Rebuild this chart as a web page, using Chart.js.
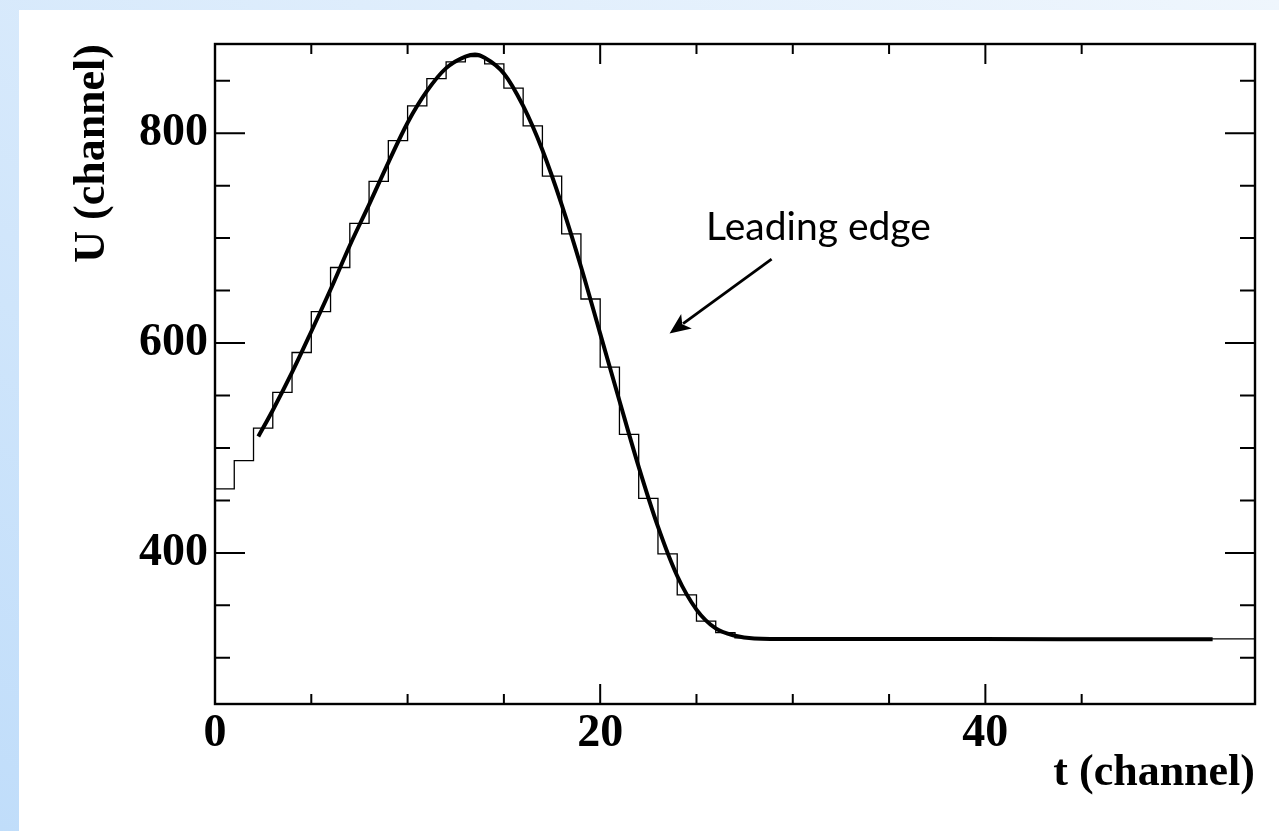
<!DOCTYPE html>
<html>
<head>
<meta charset="utf-8">
<script src="https://cdn.jsdelivr.net/npm/chart.js@4.4.0/dist/chart.umd.min.js"></script>
<style>
html, body { margin: 0; padding: 0; }
body { width: 1279px; height: 831px; overflow: hidden; position: relative;
       background: linear-gradient(to top right, #c0ddfa, #eff6fd); }
#panel { position: absolute; left: 19px; top: 10px; right: 0; bottom: 0; background: #fff; }
#wrap { position: absolute; left: 0; top: 0; width: 1279px; height: 831px; }
</style>
</head>
<body>
<div id="panel"></div>
<div id="wrap"><canvas id="pulse"></canvas></div>
<script>
// sampled amplitude per time channel (bin i spans [i, i+1])
const histCounts = [461, 488, 519, 553, 591, 630, 672, 714, 754, 793,
                    826, 852, 868, 873, 866, 843, 807, 759, 704, 642,
                    577, 513, 452, 399, 360, 335, 324, 319, 318, 318,
                    318, 318, 318, 318, 318, 318, 318, 318, 318, 318,
                    318, 318, 318, 318, 318, 318, 318, 318, 318, 318,
                    318, 318, 318, 318];
// fitted pulse shape
const fitT = [2.25, 3, 4, 5, 6, 7, 8, 9, 10, 11, 12, 13, 13.5, 14, 15, 16, 17, 18, 19, 20,
              21, 22, 23, 24, 25, 26, 27, 28, 30, 36, 44, 51.8];
const fitU = [511, 536, 572, 611, 651, 693, 732, 772, 810, 840, 862, 873, 875, 872, 857, 826, 784, 732, 673, 609,
              545, 482, 425, 378, 346, 328, 321, 318.5, 318, 318, 317.8, 317.8];
// annotation, in data units
const noteText = 'Leading edge';
const notePos = {x: 25.5, y: 698};
const arrowTail = {x: 28.9, y: 680};
const arrowTip = {x: 23.6, y: 609};

const histPoints = histCounts.map((v, i) => ({x: i, y: v}));
histPoints.push({x: histCounts.length, y: histCounts[histCounts.length - 1]});
const fitPoints = fitT.map((t, i) => ({x: t, y: fitU[i]}));

const serif = "'Liberation Serif', 'Times New Roman', serif";

const frameTicks = {
    id: 'frameTicks',
    afterDatasetsDraw(chart) {
        const {ctx, chartArea: a, scales: {x, y}} = chart;
        ctx.save();
        ctx.strokeStyle = '#000';
        ctx.lineWidth = 2;
        ctx.beginPath();
        x.ticks.forEach(t => {
            if (t.value < x.min || t.value > x.max) return;
            const px = x.getPixelForValue(t.value);
            const len = t.value % 20 === 0 ? 20 : 10;
            ctx.moveTo(px, a.bottom); ctx.lineTo(px, a.bottom - len);
            ctx.moveTo(px, a.top); ctx.lineTo(px, a.top + len);
        });
        y.ticks.forEach(t => {
            if (t.value < y.min || t.value > y.max) return;
            const py = y.getPixelForValue(t.value);
            const len = t.value % 200 === 0 ? 30 : 15;
            ctx.moveTo(a.left, py); ctx.lineTo(a.left + len, py);
            ctx.moveTo(a.right, py); ctx.lineTo(a.right - len, py);
        });
        ctx.stroke();
        ctx.lineWidth = 2.4;
        ctx.strokeRect(a.left, a.top, a.right - a.left, a.bottom - a.top);

        // label + arrow
        ctx.fillStyle = '#000';
        ctx.font = "39px Lato, 'Open Sans', sans-serif";
        ctx.textAlign = 'left';
        ctx.textBaseline = 'alphabetic';
        ctx.fillText(noteText, x.getPixelForValue(notePos.x), y.getPixelForValue(notePos.y));
        const x0 = x.getPixelForValue(arrowTail.x), y0 = y.getPixelForValue(arrowTail.y);
        const x1 = x.getPixelForValue(arrowTip.x), y1 = y.getPixelForValue(arrowTip.y);
        const ang = Math.atan2(y1 - y0, x1 - x0);
        const hl = 21, hw = 9;
        ctx.lineWidth = 2.8;
        ctx.beginPath();
        ctx.moveTo(x0, y0);
        ctx.lineTo(x1 - Math.cos(ang) * hl * 0.8, y1 - Math.sin(ang) * hl * 0.8);
        ctx.stroke();
        ctx.beginPath();
        ctx.moveTo(x1, y1);
        ctx.lineTo(x1 - Math.cos(ang) * hl + Math.sin(ang) * hw, y1 - Math.sin(ang) * hl - Math.cos(ang) * hw);
        ctx.lineTo(x1 - Math.cos(ang) * hl * 0.75, y1 - Math.sin(ang) * hl * 0.75);
        ctx.lineTo(x1 - Math.cos(ang) * hl - Math.sin(ang) * hw, y1 - Math.sin(ang) * hl + Math.cos(ang) * hw);
        ctx.closePath();
        ctx.fill();
        ctx.restore();
    }
};

new Chart(document.getElementById('pulse'), {
    type: 'scatter',
    data: {
        datasets: [
            {
                label: 'data',
                data: histPoints,
                showLine: true,
                stepped: 'before',
                borderColor: '#000',
                borderWidth: 1.3,
                pointRadius: 0
            },
            {
                label: 'fit',
                data: fitPoints,
                showLine: true,
                cubicInterpolationMode: 'monotone',
                borderColor: '#000',
                borderWidth: 4,
                pointRadius: 0
            }
        ]
    },
    options: {
        responsive: true,
        maintainAspectRatio: false,
        animation: false,
        layout: {padding: {top: 44, right: 24, bottom: 0, left: 0}},
        plugins: {legend: {display: false}, tooltip: {enabled: false}},
        scales: {
            x: {
                type: 'linear',
                min: 0,
                max: 54,
                grid: {display: false, drawTicks: false},
                border: {display: false},
                ticks: {
                    stepSize: 5,
                    autoSkip: false,
                    maxRotation: 0,
                    padding: 3,
                    color: '#000',
                    font: {family: serif, size: 46, weight: 'bold'},
                    callback: v => (v % 20 === 0 ? v : '')
                },
                title: {
                    display: true,
                    text: 't (channel)',
                    align: 'end',
                    color: '#000',
                    font: {family: serif, size: 44, weight: 'bold'},
                    padding: {top: 0, bottom: 31}
                },
                afterFit: s => { s.height = 127; }
            },
            y: {
                min: 256,
                max: 885,
                grid: {display: false, drawTicks: false},
                border: {display: false},
                ticks: {
                    stepSize: 50,
                    includeBounds: false,
                    autoSkip: false,
                    padding: 7,
                    color: '#000',
                    font: {family: serif, size: 46, weight: 'bold'},
                    callback: v => (v % 200 === 0 ? v : '')
                },
                title: {
                    display: true,
                    text: 'U (channel)',
                    align: 'end',
                    color: '#000',
                    font: {family: serif, size: 44, weight: 'bold'},
                    padding: {top: 66, bottom: 0}
                },
                afterFit: s => { s.width = 215; }
            }
        }
    },
    plugins: [frameTicks]
});
</script>
</body>
</html>
